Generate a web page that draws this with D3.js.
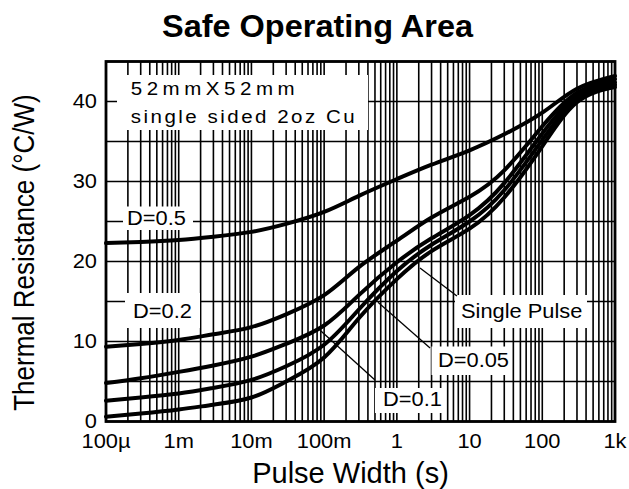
<!DOCTYPE html>
<html><head><meta charset="utf-8">
<script src="https://cdn.jsdelivr.net/npm/d3@7"></script>
<style>body{margin:0;background:#fff}</style>
</head><body>
<svg id="c" width="629" height="489"></svg>
<script>
// ---------- data ----------
const pulseWidth = [0.0001, 0.0003, 0.001, 0.003, 0.01, 0.03, 0.1, 0.3, 1, 3, 10, 30, 100, 300, 1000];
const seriesNames = ["D=0.5", "D=0.2", "D=0.1", "D=0.05", "Single Pulse"];
const rD05    = [22.3, 22.45, 22.7, 23.1, 23.7, 24.7, 26.2, 28.2, 30.3, 32.1, 33.9, 35.9, 38.6, 41.6, 43.2];
const rD02    = [9.35, 9.7, 10.2, 10.9, 11.8, 13.4, 15.8, 19.3, 22.6, 25.5, 28.1, 31.4, 36.9, 41.1, 42.8];
const rD01    = [4.8, 5.4, 6.2, 7.0, 8.1, 9.7, 12.0, 15.8, 19.9, 22.9, 25.8, 29.8, 36.0, 40.7, 42.4];
const rD005   = [2.6, 3.0, 3.5, 4.2, 5.2, 6.9, 9.6, 14.0, 18.8, 22.1, 25.0, 28.9, 35.2, 40.3, 42.1];
const rSingle = [0.6, 1.0, 1.5, 2.1, 3.0, 5.0, 8.0, 12.9, 17.8, 21.3, 24.1, 28.0, 34.4, 39.9, 41.8];
const seriesValues = [rD05, rD02, rD01, rD005, rSingle];

const xTickValues = [1e-4, 1e-3, 1e-2, 1e-1, 1, 10, 100, 1000];
const xTickLabels = ["100µ", "1m", "10m", "100m", "1", "10", "100", "1k"];
const yTickValues = [0, 10, 20, 30, 40];
const yGridValues = [0, 5, 10, 15, 20, 25, 30, 35, 40, 45];

// leader lines in data space: [t1, v1, t2, v2]
const leaderSingle = [2.08, 19.2, 6.7, 15.7];
const leaderD005   = [0.55, 14.9, 2.86, 9.2];
const leaderD01    = [0.088, 11.4, 0.5, 5.2];

// ---------- layout ----------
const FONT = "'Liberation Sans', Arial, Helvetica, sans-serif";
const SX = 1.12;
const svg = d3.select("#c");
const L = 106, R = 615, T = 61.5, B = 421.5;
const x = d3.scaleLog().domain([1e-4, 1e3]).range([L, R]);
const y = d3.scaleLinear().domain([0, 45]).range([B, T]);

svg.append("rect").attr("width", 629).attr("height", 489).attr("fill", "#fff");

function txt(g, s, px, py, o = {}) {
  const t = g.append("text")
    .attr("transform", `translate(${px},${py}) scale(${o.sx ?? SX},1)` + (o.rot ? ` rotate(${o.rot})` : ""))
    .attr("font-family", FONT)
    .attr("font-size", o.size ?? 19.5)
    .attr("font-weight", o.weight ?? "normal")
    .attr("text-anchor", o.anchor ?? "start")
    .attr("fill", "#000")
    .text(s);
  if (o.len) t.attr("textLength", o.len / (o.sx ?? SX)).attr("lengthAdjust", o.adj ?? "spacingAndGlyphs");
  return t;
}

// grid
const grid = svg.append("g").attr("stroke", "#000").attr("stroke-width", 1.6);
grid.selectAll("line.v").data(x.ticks()).join("line")
  .attr("x1", d => x(d)).attr("x2", d => x(d)).attr("y1", T).attr("y2", B);
grid.selectAll("line.h").data(yGridValues).join("line")
  .attr("y1", d => y(d)).attr("y2", d => y(d)).attr("x1", L).attr("x2", R);

// annotation boxes (white backgrounds)
const boxes = [
  [117, 75, 368, 130],
  [123, 206.5, 193, 230],
  [125, 293, 200, 328],
  [455, 295, 587, 328],
  [431.5, 346.5, 508, 375],
  [375, 388, 442, 413]
];
svg.append("g").selectAll("rect").data(boxes).join("rect")
  .attr("x", d => d[0]).attr("y", d => d[1])
  .attr("width", d => d[2] - d[0]).attr("height", d => d[3] - d[1])
  .attr("fill", "#fff");

// frame
svg.append("rect").attr("x", L).attr("y", T).attr("width", R - L).attr("height", B - T)
  .attr("fill", "none").attr("stroke", "#000").attr("stroke-width", 2.8);

// curves
const line = d3.line().x(d => x(d[0])).y(d => y(d[1])).curve(d3.curveNatural);
svg.append("g").selectAll("path").data(seriesValues).join("path")
  .attr("d", vals => line(pulseWidth.map((t, i) => [t, vals[i]])))
  .attr("fill", "none").attr("stroke", "#000").attr("stroke-width", 4)
  .attr("stroke-linejoin", "round").attr("stroke-linecap", "round");

// leader lines
svg.append("g").selectAll("line").data([leaderSingle, leaderD005, leaderD01]).join("line")
  .attr("x1", d => x(d[0])).attr("y1", d => y(d[1]))
  .attr("x2", d => x(d[2])).attr("y2", d => y(d[3]))
  .attr("stroke", "#000").attr("stroke-width", 1.3);

// axes text
const ax = svg.append("g");
yTickValues.forEach(v => txt(ax, String(v), 97, y(v) + 6, { anchor: "end" }));
xTickValues.forEach((v, i) => txt(ax, xTickLabels[i], x(v), 448, { anchor: "middle" }));

// titles
txt(svg, "Safe Operating Area", 317.5, 36.5, { size: 32, weight: "bold", anchor: "middle", sx: 1, len: 311 });
txt(svg, "Pulse Width (s)", 350.5, 483, { size: 29, anchor: "middle", sx: 1 });
txt(svg, "Thermal Resistance (°C/W)", 34, 252.5, { size: 26, anchor: "middle", rot: -90 });

// annotation text
const ann = svg.append("g");
txt(ann, "52mmX52mm", 130.7, 95, { size: 19, sx: 1.08, len: 164, adj: "spacing" });
txt(ann, "single sided 2oz Cu", 130.7, 122.7, { size: 19, sx: 1.08, len: 224, adj: "spacing" });
txt(ann, seriesNames[0], 127, 225);
txt(ann, seriesNames[1], 133, 318.3);
txt(ann, seriesNames[4], 461, 317.7);
txt(ann, seriesNames[3], 438, 366.7);
txt(ann, seriesNames[2], 383, 405.7);
</script>
</body></html>
